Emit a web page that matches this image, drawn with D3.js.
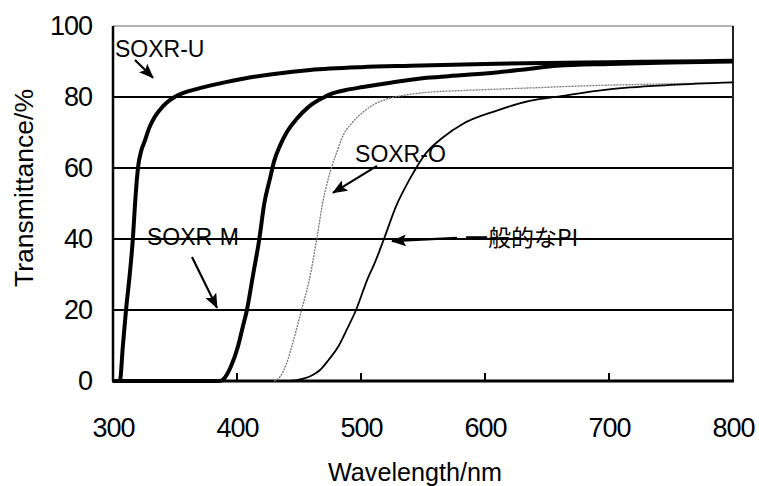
<!DOCTYPE html>
<html>
<head>
<meta charset="utf-8">
<script src="https://cdn.jsdelivr.net/npm/d3@7"></script>
<style>
    body { margin: 0; background: #fff; }
    text { font-family: "Liberation Sans", Arial, sans-serif; fill: #000; }
</style>
</head>
<body>
<div class="chart"></div>
<script>
// data

var xTicks = [300, 400, 500, 600, 700, 800]
var yTicks = [0, 20, 40, 60, 80, 100]
var gridValues = [20, 40, 60, 80]

var wlU = [300, 305.5, 308, 310.5, 313.5, 316, 317.8, 319.3, 320.5, 322.5, 325.5, 329.6, 333.5, 337.6, 343, 349.7, 358, 370, 391, 410, 430, 459, 500, 540, 600, 650, 700, 750, 800]
var tU  = [0, 0, 10, 20, 30, 40, 50, 57, 61, 64.5, 67.5, 71.6, 74.3, 76.3, 78.3, 80, 81.3, 82.5, 84.2, 85.5, 86.5, 87.6, 88.4, 88.8, 89.3, 89.6, 89.8, 90, 90.2]

var wlM = [300, 386, 389, 395, 401, 404.5, 408, 413, 418, 422, 426.6, 430, 434.7, 440, 448, 458, 469.5, 477, 487, 501.6, 525, 553, 580, 609, 635, 658, 700, 750, 800]
var tM  = [0, 0, 0.5, 4, 10, 15, 20, 30, 40, 50, 57, 62, 66.3, 70, 73.8, 77.3, 79.8, 81, 81.9, 82.8, 84.1, 85.4, 86.1, 86.9, 87.9, 88.8, 89.3, 89.7, 90]

var wlO = [430, 434.7, 440, 446, 452, 458.3, 464.3, 469, 473.6, 480, 485.5, 493, 501.6, 510, 520.7, 535, 553, 580, 609, 640, 676.6, 720, 760, 800]
var tO  = [0, 1.2, 5, 12, 20, 28.5, 40, 50, 57, 64, 69.1, 72.8, 75.7, 77.8, 79.4, 80.5, 81.3, 81.8, 82.2, 82.6, 83.1, 83.5, 83.8, 84.1]

var wlPI = [443, 449, 455, 461, 467, 474, 481.7, 488.4, 496, 505, 511, 518.5, 528, 539.5, 545, 552, 566, 582, 609, 636, 663, 690, 717, 750, 800]
var tPI  = [0, 0.3, 0.8, 1.7, 3.1, 6, 9.7, 14.4, 20, 28.5, 33.2, 40, 49, 57, 60.3, 64, 68.6, 72.4, 76.1, 78.9, 80.3, 81.7, 82.7, 83.4, 84.1]

// label, text position, arrow tail, arrow head (in data units)
var labels = [
    {text: "SOXR-U", x: 301.6, y: 91.3, from: [317.7, 90.4], to: [332.3, 85.4]},
    {text: "SOXR-M", x: 327.4, y: 38.3, from: [363.7, 34.9], to: [383.9, 20.6]},
    {text: "SOXR-O", x: 495.2, y: 61.7, from: [512.9, 60.6], to: [477.4, 53.0]},
    {text: "一般的なPI", x: 583.9, y: 38, from: [577.4, 40.3], to: [525, 39.4]}
]

//setup SVG

var w = 759
var h = 486

var svg = d3.select(".chart")
    .append("svg")
    .attr("width", w)
    .attr("height", h)

var x = d3.scaleLinear().domain([300, 800]).range([113, 733])
var y = d3.scaleLinear().domain([0, 100]).range([381, 26])

svg.append("defs").append("marker")
    .attr("id", "head")
    .attr("markerUnits", "userSpaceOnUse")
    .attr("markerWidth", 16)
    .attr("markerHeight", 12)
    .attr("refX", 14)
    .attr("refY", 6)
    .attr("orient", "auto")
    .append("path")
    .attr("d", "M0,0 L15,6 L0,12 L3,6 Z")
    .attr("fill", "#000")

// grid lines

svg.selectAll(".grid")
    .data(gridValues)
    .enter()
    .append("line")
    .attr("x1", x(300))
    .attr("x2", x(800))
    .attr("y1", d => y(d))
    .attr("y2", d => y(d))
    .attr("stroke", "#000")
    .attr("stroke-width", 2)

// axes (labels only, ticks drawn below)

var xAxis = svg.append("g")
    .attr("transform", "translate(0," + y(0) + ")")
    .call(d3.axisBottom(x).tickValues(xTicks).tickSize(0).tickPadding(37))

xAxis.select(".domain").remove()
xAxis.selectAll("text")
    .style("font-family", "Liberation Sans")
    .style("font-size", "27px")
    .attr("letter-spacing", "-1")

var yAxis = svg.append("g")
    .attr("transform", "translate(" + x(300) + ",0)")
    .call(d3.axisLeft(y).tickValues(yTicks).tickSize(0).tickPadding(21))

yAxis.select(".domain").remove()
yAxis.selectAll("text")
    .style("font-family", "Liberation Sans")
    .style("font-size", "27px")
    .attr("letter-spacing", "-1")

// inward ticks on the bottom axis
svg.selectAll(".xtick")
    .data(xTicks.slice(1, -1))
    .enter()
    .append("line")
    .attr("x1", d => x(d))
    .attr("x2", d => x(d))
    .attr("y1", y(0))
    .attr("y2", y(0) - 8)
    .attr("stroke", "#000")
    .attr("stroke-width", 2)

// frame

svg.append("line")
    .attr("x1", x(300)).attr("x2", x(800))
    .attr("y1", y(100)).attr("y2", y(100))
    .attr("stroke", "#666")
    .attr("stroke-width", 1)

svg.append("line")
    .attr("x1", x(800)).attr("x2", x(800))
    .attr("y1", y(100)).attr("y2", y(0))
    .attr("stroke", "#222")
    .attr("stroke-width", 2)

svg.append("line")
    .attr("x1", x(300)).attr("x2", x(300))
    .attr("y1", y(100)).attr("y2", y(0))
    .attr("stroke", "#000")
    .attr("stroke-width", 2.5)

svg.append("line")
    .attr("x1", x(300) - 1).attr("x2", x(800) + 1)
    .attr("y1", y(0)).attr("y2", y(0))
    .attr("stroke", "#000")
    .attr("stroke-width", 3)

// curves

var line = d3.line()
    .x(d => x(d[0]))
    .y(d => y(d[1]))
    .curve(d3.curveMonotoneX)

function drawCurve(wl, t, color, width, dash) {
    svg.append("path")
        .attr("d", line(d3.zip(wl, t)))
        .attr("fill", "none")
        .attr("stroke", color)
        .attr("stroke-width", width)
        .attr("stroke-dasharray", dash)
        .attr("stroke-linejoin", "round")
}

drawCurve(wlO, tO, "#777", 1.3, "2,1")
drawCurve(wlPI, tPI, "#000", 1.8, null)
drawCurve(wlM, tM, "#000", 4, null)
drawCurve(wlU, tU, "#000", 4, null)

// labels and arrows

svg.selectAll(".label")
    .data(labels)
    .enter()
    .append("text")
    .attr("x", d => x(d.x))
    .attr("y", d => y(d.y))
    .style("font-size", "23px")
    .style("font-family", d => d.text == "一般的なPI" ? "Noto Sans CJK JP" : "Liberation Sans")
    .text(d => d.text)

svg.selectAll(".arrow")
    .data(labels)
    .enter()
    .append("line")
    .attr("x1", d => x(d.from[0]))
    .attr("y1", d => y(d.from[1]))
    .attr("x2", d => x(d.to[0]))
    .attr("y2", d => y(d.to[1]))
    .attr("stroke", "#000")
    .attr("stroke-width", 2.2)
    .attr("marker-end", "url(#head)")

// axis titles

svg.append("text")
    .attr("x", 415)
    .attr("y", 481)
    .attr("text-anchor", "middle")
    .attr("textLength", 174)
    .attr("lengthAdjust", "spacingAndGlyphs")
    .style("font-size", "25px")
    .text("Wavelength/nm")

svg.append("text")
    .attr("transform", "translate(33,188) rotate(-90)")
    .attr("text-anchor", "middle")
    .attr("textLength", 198)
    .attr("lengthAdjust", "spacingAndGlyphs")
    .style("font-size", "26px")
    .text("Transmittance/%")
</script>
</body>
</html>
